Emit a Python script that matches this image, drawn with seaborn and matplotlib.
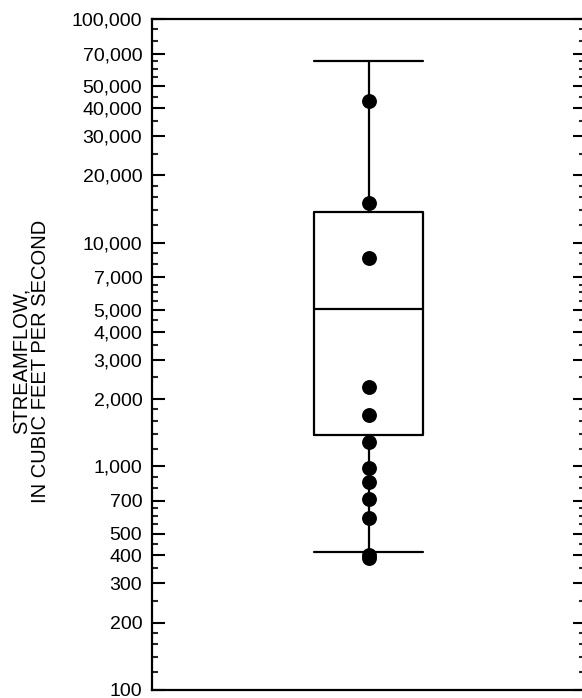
import matplotlib
matplotlib.use("Agg")
import matplotlib.pyplot as plt
import seaborn as sns
import pandas as pd
from matplotlib.ticker import FixedLocator, FuncFormatter, NullFormatter

# ---- data ----
peak_flows = [43000, 15100, 8500, 2270, 1700, 1290, 980, 850, 715, 590, 400, 390]
box_whisker_low = 415
box_q1 = 1375
box_median = 5050
box_q3 = 13700
box_whisker_high = 65000

major_ticks = [100, 200, 300, 400, 500, 700,
               1000, 2000, 3000, 4000, 5000, 7000,
               10000, 20000, 30000, 40000, 50000, 70000, 100000]
minor_multipliers = [1.2, 1.4, 1.6, 1.8, 2.5, 3.5, 4.5, 5.5, 6, 6.5, 8, 9]
decades = [100, 1000, 10000]
ylabel = "STREAMFLOW,\nIN CUBIC FEET PER SECOND"

sns.set_style("ticks")
plt.rcParams['font.family'] = ['Liberation Sans', 'DejaVu Sans']

fig = plt.figure(figsize=(5.82, 6.98), dpi=100)
W, H = 582, 698
left, right, top, bottom = 152, 585, 19, 690
ax = fig.add_axes([left / W, 1 - bottom / H, (right - left) / W, (bottom - top) / H])

ax.set_yscale('log')

stats = [{'med': box_median, 'q1': box_q1, 'q3': box_q3,
          'whislo': box_whisker_low, 'whishi': box_whisker_high, 'fliers': []}]
lp = dict(color='black', linewidth=1.6)
ax.bxp(stats, positions=[0], widths=0.5, capwidths=0.5, showfliers=False,
       boxprops=lp, whiskerprops=lp, capprops=lp, medianprops=lp,
       patch_artist=False, manage_ticks=False, zorder=2)

df = pd.DataFrame({'x': [0] * len(peak_flows), 'flow': peak_flows})
sns.scatterplot(data=df, x='x', y='flow', ax=ax, color='black', s=115,
                edgecolor='black', linewidth=0, zorder=3, legend=False)

ax.set_xlim(-1, 1)
ax.set_ylim(100, 100000)

minor_ticks = [d * m for d in decades for m in minor_multipliers]
ax.yaxis.set_major_locator(FixedLocator(major_ticks))
ax.yaxis.set_minor_locator(FixedLocator(minor_ticks))
ax.yaxis.set_major_formatter(FuncFormatter(lambda v, p: f"{int(round(v)):,}"))
ax.yaxis.set_minor_formatter(NullFormatter())
ax.tick_params(axis='y', which='major', direction='in', length=9, width=1.5,
               left=True, right=True, labelsize=14, pad=7, colors='black')
ax.tick_params(axis='y', which='minor', direction='in', length=4.5, width=1.5,
               left=True, right=True)
ax.set_xticks([])
ax.set_xlabel('')
ax.set_ylabel(ylabel, fontsize=14.5, color='black', linespacing=1.0)
ax.yaxis.set_label_coords((50 - left) / (right - left), 0.49)

for s in ax.spines.values():
    s.set_linewidth(1.6)
    s.set_color('black')

fig.savefig('out.png', dpi=100)
